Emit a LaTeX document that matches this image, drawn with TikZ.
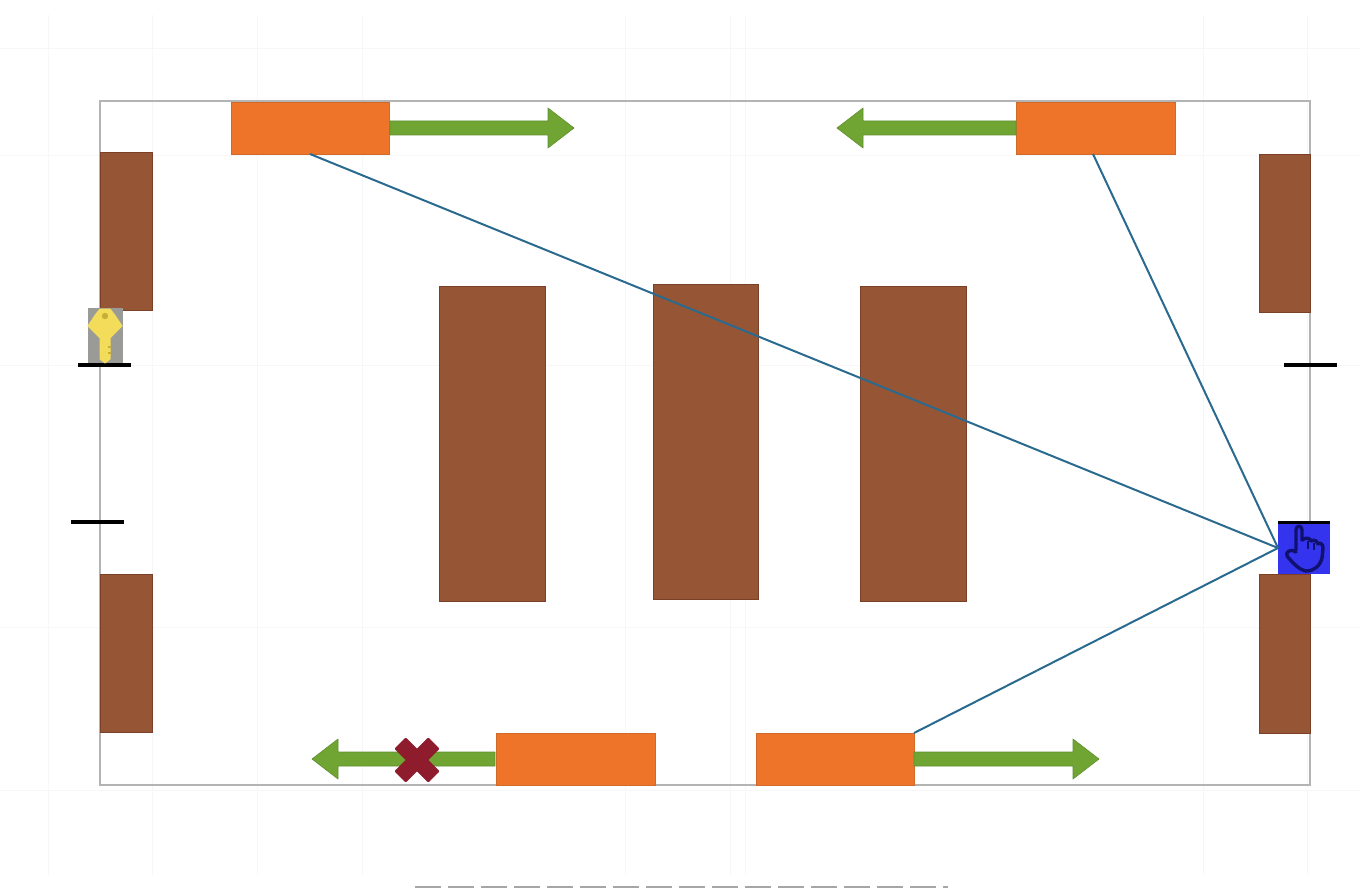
\documentclass[tikz,border=0pt]{standalone}
\usetikzlibrary{calc}
\definecolor{brownbox}{HTML}{965636}
\definecolor{brownedge}{HTML}{7A4028}
\definecolor{orangebox}{HTML}{ED7428}
\definecolor{orangeedge}{HTML}{D06A2A}
\definecolor{greenar}{HTML}{70A534}
\definecolor{greenedge}{HTML}{5F8F2E}
\definecolor{linkblue}{HTML}{2A6A8E}
\definecolor{wallgrey}{HTML}{B4B4B4}
\definecolor{handblue}{HTML}{3434EE}
\definecolor{handdark}{HTML}{10106E}
\definecolor{crossred}{HTML}{8E1C2C}
\definecolor{keyyellow}{HTML}{F2DC5A}
\definecolor{keydark}{HTML}{C8AE34}
\definecolor{keygrey}{HTML}{9A9A96}
\tikzset{
  x=1pt,y=-1pt,
  box/.style={rectangle,inner sep=0pt,outer sep=0pt,line width=.8pt},
  shelf/.style={box,fill=brownbox,draw=brownedge,line width=.8pt},
  doorpanel/.style={box,fill=orangebox,draw=orangeedge},
  sight/.style={draw=linkblue,line width=2pt},
  tick/.style={draw=black,line width=3.2pt},
  arrowshape/.style={fill=greenar,draw=greenedge,line width=.6pt,line join=round},
  faint/.style={draw=black!3,line width=.7pt}
}
\newcommand{\rectnode}[6]{\node[#1,minimum width=#5-#3,minimum height=#6-#4] (#2) at ({(#3+#5)/2},{(#4+#6)/2}) {};}
\newcommand{\greenarrow}[4]{\fill[arrowshape] (#1,#4-7) -- (#2,#4-7) -- (#2,#4-20) -- (#3,#4) -- (#2,#4+20) -- (#2,#4+7) -- (#1,#4+7) -- cycle;}
\begin{document}
\begin{tikzpicture}
\useasboundingbox (0,0) rectangle (1360,888);
\fill[white] (0,0) rectangle (1360,888);
% faint background grid
\foreach \gx in {48,152,257,362,625,730,745,1203,1307}{\draw[faint] (\gx,15) -- (\gx,875);}
\foreach \gy in {48,155,365,627,790}{\draw[faint] (0,\gy) -- (1360,\gy);}
% clipped remains along the bottom edge
\draw[black!35,line width=3pt,dash pattern=on 26pt off 7pt] (415,887.5) -- (948,887.5);
% room
\node[box,draw=wallgrey,minimum width=1210pt,minimum height=683pt,line width=2pt] (room) at (705,443) {};
% shelves
\rectnode{shelf}{s1}{439}{286}{545}{601}
\rectnode{shelf}{s2}{653}{284}{758}{599}
\rectnode{shelf}{s3}{860}{286}{966}{601}
% side boxes
\rectnode{shelf}{l1}{100}{152}{152}{310}
\rectnode{shelf}{l2}{100}{574}{152}{732}
\rectnode{shelf}{r1}{1259}{154}{1310}{312}
\rectnode{shelf}{r2}{1259}{574}{1310}{733}
% ticks
\draw[tick] (78,365) -- (131,365);
\draw[tick] (71,522) -- (124,522);
\draw[tick] (1284,365) -- (1337,365);
% orange panels
\rectnode{doorpanel}{o1}{231}{102}{389}{154}
\rectnode{doorpanel}{o2}{1016}{102}{1175}{154}
\rectnode{doorpanel}{o3}{496}{733}{655}{785}
\rectnode{doorpanel}{o4}{756}{733}{914}{785}
% arrows
\greenarrow{390}{548}{574}{128}
\greenarrow{1016}{863}{837}{128}
\greenarrow{495}{338}{312}{759}
\greenarrow{914}{1073}{1099}{759}
% cross
\begin{scope}[shift={(417,760)}]
  \fill[crossred,rotate=45,rounded corners=1pt] (-24,-8) rectangle (24,8);
  \fill[crossred,rotate=-45,rounded corners=1pt] (-24,-8) rectangle (24,8);
\end{scope}
% key
\rectnode{box,fill=keygrey,draw=none}{keybox}{88}{308}{123}{363}
\begin{scope}[shift={(105,0)}]
  \fill[keyyellow,line join=round,draw=keyyellow,line width=1pt] (-5,309) -- (5,309) -- (9,314) -- (17,326) -- (9,334) -- (5,338) -- (5,359) -- (0,363) -- (-5,359) -- (-5,338) -- (-9,334) -- (-17,326) -- (-9,314) -- cycle;
  \fill[keydark] (0,316) circle (3.2pt);
  \fill[keydark] (3,346) rectangle (6,348);
  \fill[keydark] (3,352) rectangle (6,354);
\end{scope}
% hand
\rectnode{box,fill=handblue,draw=none}{hand}{1278}{522}{1330}{574}
\draw[black,line width=2.6pt] (1278,522.5) -- (1330,522.5);
\draw[handdark,line width=3.4pt,line join=round,line cap=round]
  (1296,550) -- (1296,530) .. controls (1296,525) and (1302,525) .. (1302,530)
  -- (1302,540) .. controls (1306,537) and (1310,538) .. (1311,541)
  .. controls (1314,539) and (1317,541) .. (1318,544)
  .. controls (1320,542) and (1323,544) .. (1323,548)
  -- (1322,558) .. controls (1320,566) and (1314,571) .. (1306,571)
  .. controls (1299,570) and (1292,562) .. (1287,556)
  .. controls (1285,552) and (1291,548) .. (1296,552);
\draw[handdark,line width=1.8pt] (1308,541) -- (1308,549) (1314,543) -- (1314,550);
% sight lines
\draw[sight] (o1.south) -- (hand.west);
\draw[sight] ($(o2.south)+(-2.5,0)$) -- (hand.west);
\draw[sight] (o4.north east) -- (hand.west);
\end{tikzpicture}
\end{document}
